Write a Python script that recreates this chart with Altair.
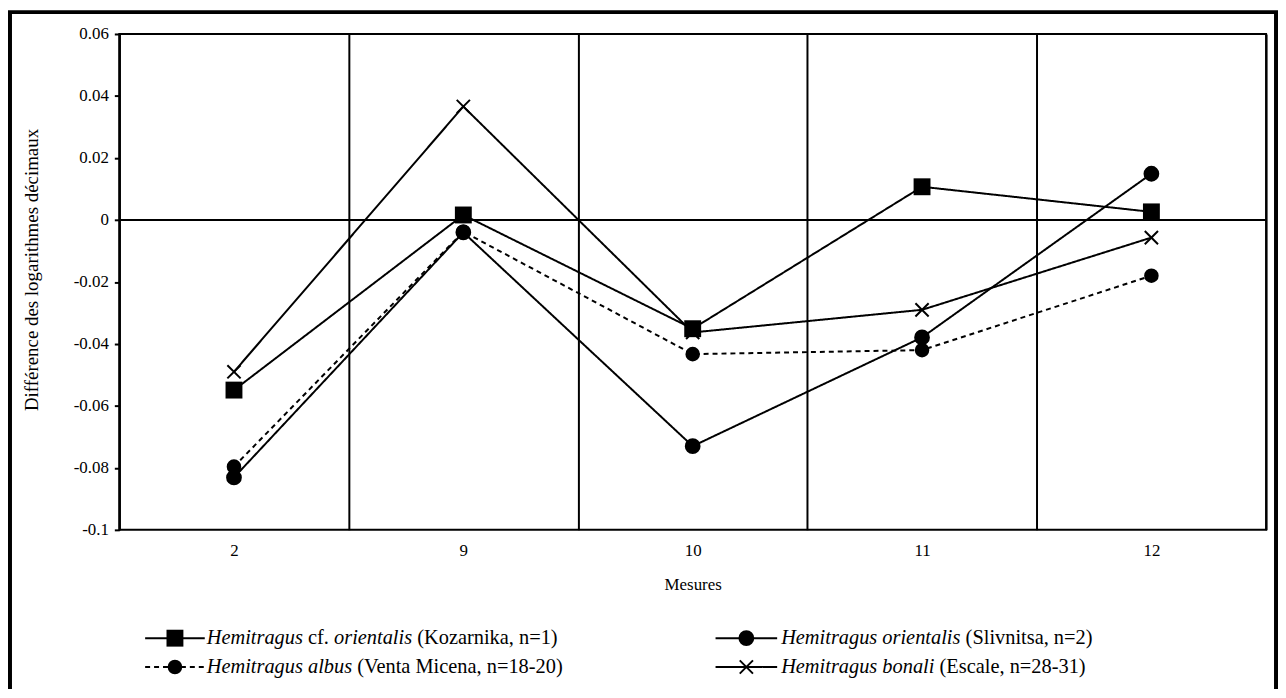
import altair as alt
import pandas as pd

# ---------------- data ----------------
measures = ["2", "9", "10", "11", "12"]
series_names = [
    "Hemitragus cf. orientalis (Kozarnika, n=1)",
    "Hemitragus orientalis (Slivnitsa, n=2)",
    "Hemitragus albus (Venta Micena, n=18-20)",
    "Hemitragus bonali (Escale, n=28-31)",
]
kozarnika = [-0.0549, 0.0016, -0.0351, 0.0107, 0.0026]
slivnitsa = [-0.0831, -0.0040, -0.0730, -0.0379, 0.0149]
venta_micena = [-0.0796, -0.0038, -0.0433, -0.0420, -0.0180]
escale = [-0.0490, 0.0366, -0.0363, -0.0290, -0.0057]
y_ticks = [-0.1, -0.08, -0.06, -0.04, -0.02, 0, 0.02, 0.04, 0.06]

legend_parts = [
    [("Hemitragus", True), (" cf. ", False), ("orientalis", True), (" (Kozarnika, n=1)", False)],
    [("Hemitragus orientalis", True), (" (Slivnitsa, n=2)", False)],
    [("Hemitragus albus", True), (" (Venta Micena, n=18-20)", False)],
    [("Hemitragus bonali", True), (" (Escale, n=28-31)", False)],
]

# ---------------- layout ----------------
W, H = 1154, 499
FONT = "Liberation Serif"
legend_row_y = [608, 637]
legend_col_line = [(26, 86), (600, 662)]
legend_col_text = [88, 666]
legend_cell = [(0, 0), (1, 0), (0, 1), (1, 1)]  # (col, row) per series

ROMAN = {" ": 250, "(": 333, ")": 333, ",": 250, ".": 250, "-": 333, "=": 564,
         "K": 722, "S": 556, "V": 722, "M": 889, "E": 611,
         "a": 444, "c": 444, "e": 444, "f": 333, "i": 278, "k": 500, "l": 278,
         "n": 500, "o": 500, "r": 333, "s": 389, "t": 278, "v": 500, "z": 444}
ITALIC = {" ": 250, "H": 722, "e": 444, "m": 722, "i": 278, "t": 278, "r": 389,
          "a": 500, "g": 500, "u": 500, "s": 389, "o": 500, "n": 500, "l": 278,
          "b": 500, "c": 444}
LFS = 20.5


def tw(s, italic):
    table = ITALIC if italic else ROMAN
    return sum(table.get(ch, 500) for ch in s) * LFS / 1000.0


rows = []
for name, vals in zip(series_names, [kozarnika, slivnitsa, venta_micena, escale]):
    for i, (m, v) in enumerate(zip(measures, vals)):
        rows.append({"series": name, "measure": m, "value": v, "idx": i})
df = pd.DataFrame(rows)

leg_sym = []
leg_txt = []
for name, (c, r), parts in zip(series_names, legend_cell, legend_parts):
    x1, x2 = legend_col_line[c]
    y = legend_row_y[r]
    leg_sym.append({"series": name, "x1": x1, "x2": x2, "cx": (x1 + x2) / 2, "y": y})
    x = legend_col_text[c]
    for text, ital in parts:
        lead = len(text) - len(text.lstrip(" "))
        trail = len(text) - len(text.rstrip(" "))
        core = text.strip(" ")
        x += tw(" " * lead, ital)
        leg_txt.append({"t": core, "tx": x, "ty": y, "italic": ital})
        x += tw(core, ital) + tw(" " * trail, ital)
leg_sym = pd.DataFrame(leg_sym)
leg_txt = pd.DataFrame(leg_txt)

CROSS = "M-1,-1L1,1M-1,1L1,-1"
shape_scale = alt.Scale(domain=series_names, range=["square", "circle", "circle", CROSS])
size_scale = alt.Scale(domain=series_names, range=[289, 177, 121, 144])
dash_scale = alt.Scale(domain=series_names, range=[[1, 0], [1, 0], [5, 4], [1, 0]])

x_enc = alt.X(
    "measure:N",
    sort=measures,
    scale=alt.Scale(type="band", domain=measures, paddingInner=0, paddingOuter=0),
    bandPosition=0.5,
    axis=alt.Axis(
        title="Mesures", tickBand="extent", grid=True, gridColor="black", gridWidth=2,
        gridOpacity=1, ticks=False, tickSize=0, labelAngle=0, labelFont=FONT,
        labelFontSize=17, labelColor="black", labelPadding=13, domain=False,
        titleFont=FONT, titleFontSize=17, titleFontWeight="normal", titleColor="black",
        titleY=55, titleBaseline="middle",
    ),
)
y_enc = alt.Y(
    "value:Q",
    scale=alt.Scale(domain=[-0.1, 0.06], nice=False, zero=False),
    axis=alt.Axis(
        title="Différence des logarithmes décimaux", values=y_ticks,
        labelExpr="'' + datum.value", grid=False, ticks=True, tickSize=5, tickWidth=2,
        tickColor="black", domain=True, domainColor="black", domainWidth=2,
        labelFont=FONT, labelFontSize=17, labelColor="black", labelPadding=6,
        titleFont=FONT, titleFontSize=19, titleFontWeight="normal", titleColor="black",
        titleX=-88, titleY=237, titleAngle=270, titleAlign="center",
        titleBaseline="middle",
    ),
)

base = alt.Chart(df)

zero_rule = alt.Chart(pd.DataFrame({"value": [0.0]})).mark_rule(
    color="black", strokeWidth=2
).encode(y=y_enc)

lines = base.mark_line(color="black", strokeWidth=2).encode(
    x=x_enc, y=y_enc, detail="series:N", order=alt.Order("idx:Q"),
    strokeDash=alt.StrokeDash("series:N", scale=dash_scale, legend=None),
)

filled_pts = base.transform_filter(
    alt.datum.series != series_names[3]
).mark_point(filled=True, color="black", opacity=1).encode(
    x=x_enc, y=y_enc,
    shape=alt.Shape("series:N", scale=shape_scale, legend=None),
    size=alt.Size("series:N", scale=size_scale, legend=None),
)
cross_pts = base.transform_filter(
    alt.datum.series == series_names[3]
).mark_point(filled=False, color="black", opacity=1, strokeWidth=2).encode(
    x=x_enc, y=y_enc,
    shape=alt.Shape("series:N", scale=shape_scale, legend=None),
    size=alt.Size("series:N", scale=size_scale, legend=None),
)

# ---------- custom legend (mixed italic / roman text) ----------
lsym = alt.Chart(leg_sym)
leg_lines = lsym.mark_rule(color="black", strokeWidth=2).encode(
    x=alt.X("x1:Q", scale=None), x2="x2:Q", y=alt.Y("y:Q", scale=None),
    strokeDash=alt.StrokeDash("series:N", scale=dash_scale, legend=None),
)
leg_filled = lsym.transform_filter(
    alt.datum.series != series_names[3]
).mark_point(filled=True, color="black", opacity=1).encode(
    x=alt.X("cx:Q", scale=None), y=alt.Y("y:Q", scale=None),
    shape=alt.Shape("series:N", scale=shape_scale, legend=None),
    size=alt.Size("series:N", scale=size_scale, legend=None),
)
leg_cross = lsym.transform_filter(
    alt.datum.series == series_names[3]
).mark_point(filled=False, color="black", opacity=1, strokeWidth=2).encode(
    x=alt.X("cx:Q", scale=None), y=alt.Y("y:Q", scale=None),
    shape=alt.Shape("series:N", scale=shape_scale, legend=None),
    size=alt.Size("series:N", scale=size_scale, legend=None),
)
ltxt = alt.Chart(leg_txt)
leg_it = ltxt.transform_filter(alt.datum.italic).mark_text(
    align="left", baseline="middle", font=FONT, fontSize=LFS, fontStyle="italic", color="black"
).encode(x=alt.X("tx:Q", scale=None), y=alt.Y("ty:Q", scale=None), text="t:N")
leg_rm = ltxt.transform_filter(~alt.datum.italic).mark_text(
    align="left", baseline="middle", font=FONT, fontSize=LFS, color="black"
).encode(x=alt.X("tx:Q", scale=None), y=alt.Y("ty:Q", scale=None), text="t:N")

# outer frame
frame = alt.Chart(pd.DataFrame({"f": [0]})).mark_rect(
    fill="white", fillOpacity=0, stroke="black", strokeWidth=4
).encode(x=alt.value(-110), x2=alt.value(1164), y=alt.value(-22), y2=alt.value(720))

chart = alt.layer(
    zero_rule, lines, filled_pts, cross_pts,
    leg_lines, leg_filled, leg_cross, leg_it, leg_rm, frame,
).properties(
    width=W, height=H,
    autosize=alt.AutoSizeParams(type="none"),
    padding={"left": 112, "top": 24, "right": 12, "bottom": 158},
    background="white",
).configure_view(stroke="black", strokeWidth=2)

chart.save("out.html", embed_options={"renderer": "svg", "actions": False})
